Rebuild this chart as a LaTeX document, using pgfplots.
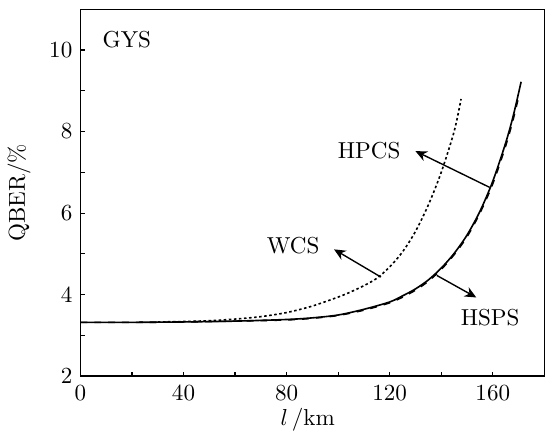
\documentclass[border=0pt]{standalone}
\usepackage{pgfplots}
\pgfplotsset{compat=1.18}
\usetikzlibrary{arrows.meta}
\begin{document}
\begin{tikzpicture}
\begin{axis}[
    scale only axis,
    width=201pt, height=159pt,
    xmin=0, xmax=180, ymin=2, ymax=11,
    xtick={0,40,...,160},
    minor xtick={20,60,...,180},
    ytick={2,4,...,10},
    minor ytick={3,5,...,11},
    tick align=inside,
    tick pos=left,
    major tick length=2pt,
    minor tick length=2pt,
    xticklabel style={yshift=-0.5pt},
    xlabel={$l\,$/km},
    ylabel={QBER/\%},
    every axis x label/.style={at={(axis description cs:0.49,-0.12)}, anchor=center},
    every axis y label/.style={at={(axis description cs:-0.132,0.5)}, anchor=center, rotate=90},
    axis line style={line width=0.6pt},
    every tick/.style={black, line width=0.5pt},
]
% HPCS
\addplot[black, line width=0.7pt, smooth] coordinates {
 (0,3.32) (20,3.32) (40,3.33) (60,3.35) (80,3.39) (90,3.43) (100,3.50)
 (110,3.64) (120,3.82) (125,3.97) (130,4.14) (135,4.36) (140,4.65)
 (145,5.01) (150,5.46) (155,6.04) (160,6.78) (165,7.72) (168,8.40) (171,9.22)
};
% HSPS
\addplot[black, line width=0.7pt, dashed, smooth] coordinates {
 (0,3.32) (20,3.32) (40,3.33) (60,3.35) (80,3.38) (90,3.42) (100,3.49)
 (110,3.62) (120,3.80) (125,3.94) (130,4.11) (135,4.33) (140,4.62)
 (145,4.98) (150,5.42) (155,6.00) (160,6.72) (165,7.65) (168,8.32) (170,8.85)
};
% WCS
\addplot[black, line width=0.7pt, dash pattern=on 1.1pt off 1.1pt, smooth] coordinates {
 (30,3.33) (40,3.34) (50,3.36) (60,3.40) (70,3.46) (80,3.56) (90,3.72)
 (100,3.94) (105,4.07) (110,4.22) (115,4.40) (120,4.68) (125,5.05)
 (130,5.55) (135,6.20) (140,7.00) (145,8.00) (147.7,8.80)
};
\node at (axis cs:18,10.25) {GYS};
\draw[-{Stealth[length=5pt,width=4.5pt]}, line width=0.6pt] (axis cs:158.8,6.63) -- (axis cs:130,7.52);
\node at (axis cs:112,7.52) {HPCS};
\draw[-{Stealth[length=5pt,width=4.5pt]}, line width=0.6pt] (axis cs:116.6,4.43) -- (axis cs:98.4,5.11);
\node at (axis cs:82.5,5.19) {WCS};
\draw[-{Stealth[length=5pt,width=4.5pt]}, line width=0.6pt] (axis cs:138.3,4.47) -- (axis cs:153.6,3.93);
\node at (axis cs:159,3.43) {HSPS};
\end{axis}
\path (current axis.north) ++(0,4pt);
\end{tikzpicture}
\end{document}
